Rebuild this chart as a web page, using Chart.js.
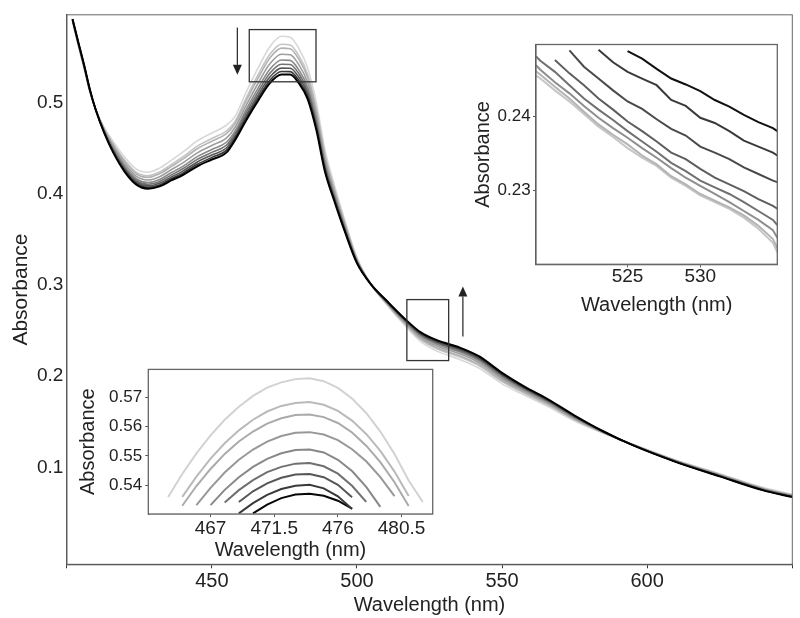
<!DOCTYPE html>
<html>
<head>
<meta charset="utf-8">
<script src="https://cdn.jsdelivr.net/npm/chart.js@4.4.1/dist/chart.umd.min.js"></script>
<style>
    body { margin: 0; background: #fff; }
    #wrap { position: relative; width: 800px; height: 618px; background: #fff; }
    canvas { position: absolute; }
</style>
</head>
<body>
<div id="wrap">
    <canvas id="mainChart" width="800" height="618" style="left:0;top:0"></canvas>
    <canvas id="peakChart" width="372" height="206" style="left:70px;top:356px"></canvas>
    <canvas id="shoulderChart" width="320" height="290" style="left:470px;top:32px"></canvas>
</div>
<script>
// main spectra (light = start, black = end)
const wavelengths = [
    402, 404, 406, 408, 410, 413, 416, 420, 424, 428,
    432, 436, 440, 445, 450, 455, 458, 462, 466, 470,
    474, 477, 480, 483, 486, 489, 492, 496, 500, 505,
    510, 516, 522, 528, 535, 542, 550, 558, 566, 575,
    585, 595, 610, 625, 640, 650,
];
const absorbance1 = [
    0.5885, 0.562, 0.537, 0.511, 0.492, 0.472, 0.4573, 0.440, 0.4269, 0.4235,
    0.428, 0.4365, 0.4455, 0.458, 0.4665, 0.475, 0.4847, 0.5124, 0.5382, 0.5611,
    0.5725, 0.5715, 0.559, 0.538, 0.500, 0.448, 0.412, 0.369, 0.330, 0.300,
    0.2795, 0.2575, 0.238, 0.227, 0.219, 0.209, 0.1917, 0.179, 0.1665, 0.151,
    0.1375, 0.1255, 0.108, 0.0933, 0.078, 0.0707,
];
const absorbance2 = [
    0.5891, 0.5628, 0.5378, 0.5116, 0.492, 0.4707, 0.4548, 0.4366, 0.4233, 0.4197,
    0.4238, 0.4319, 0.4403, 0.4521, 0.4604, 0.4687, 0.4792, 0.5059, 0.5306, 0.5527,
    0.5637, 0.5629, 0.551, 0.5309, 0.4937, 0.443, 0.4082, 0.3665, 0.3287, 0.300,
    0.2803, 0.259, 0.2401, 0.2295, 0.2217, 0.2117, 0.1942, 0.1809, 0.1682, 0.1523,
    0.1379, 0.1253, 0.1076, 0.0927, 0.0774, 0.0701,
];
const absorbance3 = [
    0.5894, 0.5632, 0.5382, 0.5119, 0.492, 0.4701, 0.4536, 0.435, 0.4216, 0.4179,
    0.4218, 0.4297, 0.4378, 0.4493, 0.4575, 0.4657, 0.4766, 0.5028, 0.527, 0.5487,
    0.5595, 0.5588, 0.5472, 0.5275, 0.4907, 0.4406, 0.4064, 0.3653, 0.3281, 0.300,
    0.2807, 0.2597, 0.2411, 0.2307, 0.223, 0.213, 0.1954, 0.1818, 0.169, 0.1529,
    0.1381, 0.1252, 0.1074, 0.0924, 0.0771, 0.0698,
];
const absorbance4 = [
    0.5899, 0.5639, 0.5389, 0.5124, 0.492, 0.4692, 0.4517, 0.4325, 0.4189, 0.415,
    0.4186, 0.4262, 0.4338, 0.4448, 0.4529, 0.4609, 0.4725, 0.4978, 0.5213, 0.5423,
    0.5528, 0.5522, 0.5411, 0.522, 0.4859, 0.4367, 0.4035, 0.3634, 0.3272, 0.300,
    0.2814, 0.2608, 0.2427, 0.2326, 0.2251, 0.2151, 0.1973, 0.1832, 0.1703, 0.1538,
    0.1384, 0.125, 0.1071, 0.0919, 0.0766, 0.0693,
];
const absorbance5 = [
    0.5904, 0.5645, 0.5395, 0.5129, 0.492, 0.4683, 0.4499, 0.4301, 0.4164, 0.4123,
    0.4156, 0.4229, 0.43, 0.4406, 0.4485, 0.4564, 0.4686, 0.4932, 0.5159, 0.5363,
    0.5465, 0.5461, 0.5354, 0.5169, 0.4814, 0.4331, 0.4008, 0.3616, 0.3263, 0.300,
    0.282, 0.2618, 0.2442, 0.2344, 0.2271, 0.2171, 0.1991, 0.1846, 0.1715, 0.1547,
    0.1387, 0.1249, 0.1068, 0.0914, 0.0761, 0.0688,
];
const absorbance6 = [
    0.5907, 0.5649, 0.5399, 0.5132, 0.492, 0.4676, 0.4485, 0.4283, 0.4145, 0.4104,
    0.4134, 0.4204, 0.4273, 0.4376, 0.4453, 0.4531, 0.4657, 0.4898, 0.5119, 0.5319,
    0.5418, 0.5416, 0.5313, 0.5132, 0.4781, 0.4305, 0.3989, 0.3602, 0.3256, 0.300,
    0.2824, 0.2626, 0.2453, 0.2358, 0.2285, 0.2185, 0.2005, 0.1856, 0.1723, 0.1554,
    0.139, 0.1248, 0.1065, 0.0911, 0.0758, 0.0685,
];
const absorbance7 = [
    0.591, 0.5653, 0.5403, 0.5135, 0.492, 0.467, 0.4473, 0.4267, 0.4128, 0.4086,
    0.4114, 0.4182, 0.4248, 0.4348, 0.4424, 0.4501, 0.4631, 0.4867, 0.5083, 0.5279,
    0.5376, 0.5375, 0.5275, 0.5098, 0.4751, 0.4281, 0.3971, 0.359, 0.325, 0.300,
    0.2828, 0.2633, 0.2463, 0.237, 0.2298, 0.2198, 0.2017, 0.1865, 0.1731, 0.156,
    0.1392, 0.1247, 0.1063, 0.0908, 0.0755, 0.0682,
];
const absorbance8 = [
    0.5913, 0.5657, 0.5407, 0.5138, 0.492, 0.4665, 0.4463, 0.4253, 0.4113, 0.4069,
    0.4096, 0.4163, 0.4225, 0.4322, 0.4398, 0.4474, 0.4608, 0.4839, 0.5051, 0.5243,
    0.5339, 0.5338, 0.524, 0.5067, 0.4724, 0.4259, 0.3954, 0.358, 0.3245, 0.300,
    0.2832, 0.2639, 0.2472, 0.238, 0.231, 0.221, 0.2027, 0.1873, 0.1739, 0.1565,
    0.1393, 0.1246, 0.1062, 0.0905, 0.0752, 0.068,
];
const absorbance9 = [
    0.5915, 0.566, 0.541, 0.514, 0.492, 0.466, 0.4453, 0.424, 0.4099, 0.4055,
    0.408, 0.4145, 0.4205, 0.430, 0.4375, 0.445, 0.4587, 0.4814, 0.5022, 0.5211,
    0.5305, 0.5305, 0.521, 0.504, 0.470, 0.424, 0.394, 0.357, 0.324, 0.300,
    0.2835, 0.2645, 0.248, 0.239, 0.232, 0.222, 0.2037, 0.188, 0.1745, 0.157,
    0.1395, 0.1245, 0.106, 0.0903, 0.075, 0.0677,
];
const xTicks = [400, 450, 500, 550, 600, 650];
const yTicks = [0.1, 0.2, 0.3, 0.4, 0.5];

// inset around the 474 nm peak
const peakWavelengths = [464, 465, 466, 467, 468, 469, 470, 471, 472, 473, 474, 475, 476, 477, 478, 479, 480, 481, 482];
const peak1 = [0.5361, 0.5439, 0.5509, 0.5570, 0.5623, 0.5667, 0.5704, 0.5732, 0.5750, 0.5761, 0.5764, 0.5754, 0.5731, 0.5695, 0.5646, 0.5583, 0.5507, 0.5417, 0.5344];
const peak2 = [null, 0.5361, 0.5430, 0.5491, 0.5543, 0.5587, 0.5623, 0.5651, 0.5670, 0.5680, 0.5683, 0.5674, 0.5653, 0.5620, 0.5575, 0.5517, 0.5447, 0.5364, null];
const peak3 = [null, 0.5331, 0.5398, 0.5456, 0.5507, 0.5549, 0.5583, 0.5610, 0.5628, 0.5639, 0.5641, 0.5632, 0.5612, 0.5580, 0.5535, 0.5479, 0.5411, 0.5330, null];
const peak4 = [null, null, 0.5333, 0.5392, 0.5444, 0.5487, 0.5522, 0.5549, 0.5568, 0.5579, 0.5581, 0.5573, 0.5554, 0.5523, 0.5482, 0.5428, 0.5364, null, null];
const peak5 = [null, null, null, 0.5333, 0.5385, 0.5428, 0.5463, 0.5490, 0.5509, 0.5520, 0.5522, 0.5512, 0.5487, 0.5449, 0.5395, 0.5327, null, null, null];
const peak6 = [null, null, null, null, 0.5342, 0.5384, 0.5418, 0.5445, 0.5463, 0.5474, 0.5476, 0.5465, 0.5440, 0.5399, 0.5344, null, null, null, null];
const peak7 = [null, null, null, null, null, 0.5344, 0.5380, 0.5407, 0.5426, 0.5437, 0.5439, 0.5428, 0.5402, 0.5360, null, null, null, null, null];
const peak8 = [null, null, null, null, null, 0.5305, 0.5340, 0.5368, 0.5388, 0.5399, 0.5402, 0.5390, 0.5363, 0.5320, null, null, null, null, null];
const peak9 = [null, null, null, null, null, null, 0.5305, 0.5335, 0.5357, 0.5369, 0.5372, 0.5365, 0.5348, 0.5321, null, null, null, null, null];
const peakXTicks = [467, 471.5, 476, 480.5];
const peakYTicks = [0.54, 0.55, 0.56, 0.57];

// inset around the 525 nm shoulder (black = end, top)
const shoulderWavelengths = [518.7, 519, 520, 521, 522, 523, 524, 525, 526, 527, 528, 529, 530, 531, 532, 533, 534, 535, 535.3];
const shoulder1 = [null, null, null, null, null, null, null, 0.2488, 0.2478, 0.2464, 0.2451, 0.2443, 0.2434, 0.2422, 0.2413, 0.2402, 0.2392, 0.2384, 0.2380];
const shoulder2 = [null, null, null, null, null, 0.2490, 0.2473, 0.2460, 0.2451, 0.2442, 0.2422, 0.2414, 0.2398, 0.2391, 0.2380, 0.2367, 0.2359, 0.2351, 0.2347];
const shoulder3 = [null, null, null, 0.2489, 0.2467, 0.2451, 0.2435, 0.2420, 0.2410, 0.2396, 0.2383, 0.2374, 0.2359, 0.2351, 0.2342, 0.2331, 0.2322, 0.2313, 0.2311];
const shoulder4 = [null, null, 0.2476, 0.2458, 0.2442, 0.2424, 0.2409, 0.2393, 0.2380, 0.2366, 0.2351, 0.2342, 0.2329, 0.2317, 0.2308, 0.2299, 0.2288, 0.2279, 0.2275];
const shoulder5 = [0.2481, 0.2475, 0.2460, 0.2442, 0.2424, 0.2409, 0.2395, 0.2380, 0.2366, 0.2352, 0.2337, 0.2326, 0.2313, 0.2304, 0.2295, 0.2284, 0.2272, 0.2260, 0.2253];
const shoulder6 = [0.2469, 0.2463, 0.2446, 0.2431, 0.2414, 0.2398, 0.2384, 0.2371, 0.2357, 0.2344, 0.2330, 0.2317, 0.2306, 0.2295, 0.2284, 0.2272, 0.2260, 0.2246, 0.2236];
const shoulder7 = [0.2461, 0.2456, 0.2440, 0.2424, 0.2406, 0.2389, 0.2375, 0.2362, 0.2347, 0.2335, 0.2319, 0.2308, 0.2295, 0.2286, 0.2277, 0.2266, 0.2252, 0.2234, 0.2222];
const shoulder8 = [0.2455, 0.2451, 0.2435, 0.2420, 0.2403, 0.2386, 0.2372, 0.2357, 0.2344, 0.2333, 0.2317, 0.2306, 0.2293, 0.2284, 0.2275, 0.2263, 0.2248, 0.2229, 0.2216];
const shoulderXTicks = [525, 530];
const shoulderYTicks = [0.23, 0.24];

// zoom boxes and arrows on the main plot (data coordinates)
const zoomBoxes = [
    { xMin: 462.9, xMax: 485.9, yMin: 0.5226, yMax: 0.5798 },
    { xMin: 517.2, xMax: 531.6, yMin: 0.2172, yMax: 0.284 },
];
const trendArrows = [
    { x: 458.8, from: 0.582, to: 0.5302 },
    { x: 536.5, from: 0.2437, to: 0.2984 },
];

const mainColors = ['#d8d8d8', '#c4c4c4', '#b2b2b2', '#9e9e9e', '#8a8a8a', '#727272', '#575757', '#383838', '#000000'];
const peakColors = ['#d2d2d2', '#bababa', '#aaaaaa', '#989898', '#888888', '#707070', '#565656', '#3a3a3a', '#080808'];
const shoulderColors = ['#111111', '#3a3a3a', '#4a4a4a', '#5e5e5e', '#707070', '#8e8e8e', '#b4b4b4', '#c6c6c6'];

Chart.defaults.font.family = '"Liberation Sans", Arial, Helvetica, sans-serif';
Chart.defaults.color = '#222';

const main = () => {
    createMainChart();
    createPeakChart();
    createShoulderChart();
};

/**
 * Builds line datasets from a shared x array and several y arrays.
 */
const createDatasets = (xs, seriesList, colors, widths, smooth) => {
    const n = seriesList.length;

    return seriesList.map((ys, i) => ({
        data: xs.map((x, j) => ({ x: x, y: ys[j] })),
        borderColor: colors[i],
        borderWidth: widths[i],
        pointRadius: 0,
        fill: false,
        spanGaps: false,
        tension: 0,
        cubicInterpolationMode: smooth ? 'monotone' : 'default',
        order: smooth ? n - i : i,
    }));
};

/**
 * Draws a rectangle round the plot area, optionally filled white first.
 */
const framePlugin = (color, width, fillWhite) => ({
    id: 'frame',
    beforeDatasetsDraw: (chart) => {
        if (!fillWhite) {
            return;
        }
        const { ctx, chartArea: a } = chart;
        ctx.save();
        ctx.fillStyle = '#fff';
        ctx.fillRect(a.left, a.top, a.right - a.left, a.bottom - a.top);
        ctx.restore();
    },
    afterDraw: (chart) => {
        const { ctx, chartArea: a } = chart;
        ctx.save();
        ctx.strokeStyle = color;
        ctx.lineWidth = width;
        ctx.strokeRect(a.left, a.top, a.right - a.left, a.bottom - a.top);
        ctx.restore();
    },
});

/**
 * Draws a vertical arrow with a filled head at the tip.
 */
const drawArrow = (ctx, x, y1, y2) => {
    const dir = y2 > y1 ? 1 : -1;
    const headLen = 10;
    const headHalf = 4.5;

    ctx.beginPath();
    ctx.moveTo(x, y1);
    ctx.lineTo(x, y2 - dir * headLen);
    ctx.stroke();

    ctx.beginPath();
    ctx.moveTo(x, y2);
    ctx.lineTo(x - headHalf, y2 - dir * headLen);
    ctx.lineTo(x + headHalf, y2 - dir * headLen);
    ctx.closePath();
    ctx.fill();
};

const annotationPlugin = {
    id: 'annotations',
    afterDatasetsDraw: (chart) => {
        const { ctx } = chart;
        const xs = chart.scales.x;
        const ys = chart.scales.y;

        ctx.save();
        ctx.strokeStyle = '#333';
        ctx.fillStyle = '#222';
        ctx.lineWidth = 1.3;

        zoomBoxes.forEach((b) => {
            const left = xs.getPixelForValue(b.xMin);
            const right = xs.getPixelForValue(b.xMax);
            const top = ys.getPixelForValue(b.yMax);
            const bottom = ys.getPixelForValue(b.yMin);
            ctx.strokeRect(left, top, right - left, bottom - top);
        });

        trendArrows.forEach((a) => {
            drawArrow(ctx, xs.getPixelForValue(a.x), ys.getPixelForValue(a.from), ys.getPixelForValue(a.to));
        });

        ctx.restore();
    },
};

/**
 * Common axis settings; the fixed sizes pin the plot area to the reference.
 */
const createScales = (opt) => ({
    x: {
        type: 'linear',
        min: opt.xMin,
        max: opt.xMax,
        afterBuildTicks: (scale) => {
            scale.ticks = opt.xTicks.map((v) => ({ value: v }));
        },
        afterFit: (scale) => {
            scale.height = opt.xHeight;
        },
        ticks: {
            autoSkip: false,
            maxRotation: 0,
            padding: opt.xPad,
            font: { size: opt.xFont },
            callback: opt.xLabel,
        },
        grid: { drawOnChartArea: false, drawTicks: true, tickLength: opt.xTickLen, color: opt.axisColor },
        border: { display: true, color: opt.axisColor, width: 1.3 },
        title: {
            display: true,
            text: 'Wavelength (nm)',
            font: { size: 20 },
            padding: { top: 0, bottom: opt.xTitlePad },
        },
    },
    y: {
        type: 'linear',
        min: opt.yMin,
        max: opt.yMax,
        afterBuildTicks: (scale) => {
            scale.ticks = opt.yTicks.map((v) => ({ value: v }));
        },
        afterFit: (scale) => {
            scale.width = opt.yWidth;
        },
        ticks: {
            padding: opt.yPad,
            font: { size: opt.yFont },
            callback: (v) => v.toFixed(opt.yDigits),
        },
        grid: opt.yTickLen > 0
            ? { drawOnChartArea: false, drawTicks: true, tickLength: opt.yTickLen, color: opt.axisColor }
            : { display: false, drawTicks: false },
        border: { display: true, color: opt.axisColor, width: 1.3 },
        title: {
            display: true,
            text: 'Absorbance',
            font: { size: opt.yTitleFont },
            padding: { top: opt.yTitlePad, bottom: 0 },
        },
    },
});

const baseOptions = (padding, scales) => ({
    responsive: false,
    animation: false,
    events: [],
    layout: { padding: padding },
    plugins: { legend: { display: false }, tooltip: { enabled: false } },
    elements: { point: { radius: 0 } },
    scales: scales,
});

const createMainChart = () => {
    const series = [absorbance1, absorbance2, absorbance3, absorbance4, absorbance5, absorbance6, absorbance7, absorbance8, absorbance9];
    const widths = [1.6, 1.6, 1.6, 1.6, 1.6, 1.6, 1.6, 1.6, 2];
    const scales = createScales({
        xMin: 400, xMax: 650, xTicks: xTicks, xHeight: 53.7, xPad: 1, xFont: 20, xTickLen: 4, xTitlePad: 1,
        xLabel: (v) => (v === 400 || v === 650 ? '' : String(v)),
        yMin: -0.006, yMax: 0.596, yTicks: yTicks, yWidth: 66.7, yPad: 3.4, yFont: 19, yTickLen: 0,
        yDigits: 1, yTitleFont: 21, yTitlePad: 9, axisColor: '#333',
    });

    return new Chart(document.getElementById('mainChart'), {
        type: 'line',
        data: { datasets: createDatasets(wavelengths, series, mainColors, widths, true) },
        options: baseOptions({ left: 0, right: 7.7, top: 6, bottom: 0 }, scales),
        plugins: [framePlugin('#666', 1, false), annotationPlugin],
    });
};

const createPeakChart = () => {
    const series = [peak1, peak2, peak3, peak4, peak5, peak6, peak7, peak8, peak9];
    const widths = series.map(() => 2);
    const scales = createScales({
        xMin: 462.6, xMax: 482.7, xTicks: peakXTicks, xHeight: 48, xPad: 0, xFont: 19, xTickLen: 3, xTitlePad: 0,
        xLabel: (v) => String(v),
        yMin: 0.5303, yMax: 0.5794, yTicks: peakYTicks, yWidth: 78.3, yPad: 3.2, yFont: 17, yTickLen: 3,
        yDigits: 2, yTitleFont: 20, yTitlePad: 6, axisColor: '#555',
    });

    return new Chart(document.getElementById('peakChart'), {
        type: 'line',
        data: { datasets: createDatasets(peakWavelengths, series, peakColors, widths, false) },
        options: baseOptions({ left: 0, right: 9.3, top: 11.7, bottom: 0 }, scales),
        plugins: [framePlugin('#666', 1.3, true)],
    });
};

const createShoulderChart = () => {
    const series = [shoulder1, shoulder2, shoulder3, shoulder4, shoulder5, shoulder6, shoulder7, shoulder8];
    const widths = series.map(() => 2);
    const scales = createScales({
        xMin: 518.7, xMax: 535.3, xTicks: shoulderXTicks, xHeight: 57.7, xPad: -2, xFont: 19, xTickLen: 3, xTitlePad: 5,
        xLabel: (v) => String(v),
        yMin: 0.22, yMax: 0.2497, yTicks: shoulderYTicks, yWidth: 66, yPad: 2.3, yFont: 17, yTickLen: 3,
        yDigits: 2, yTitleFont: 20, yTitlePad: 1.3, axisColor: '#555',
    });

    return new Chart(document.getElementById('shoulderChart'), {
        type: 'line',
        data: { datasets: createDatasets(shoulderWavelengths, series, shoulderColors, widths, false) },
        options: baseOptions({ left: 0, right: 12.7, top: 10.7, bottom: 0 }, scales),
        plugins: [framePlugin('#666', 1.3, true)],
    });
};

main();
</script>
</body>
</html>
